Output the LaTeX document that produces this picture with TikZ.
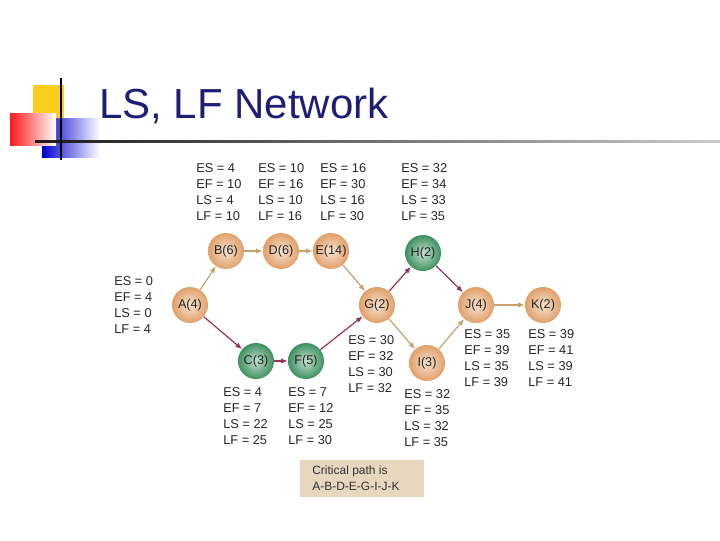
\documentclass[tikz,border=0pt]{standalone}
\usepackage{fontspec}
\setmainfont{Liberation Sans}
\usetikzlibrary{arrows.meta}
\definecolor{tan}{RGB}{225,160,105}
\definecolor{grn}{RGB}{60,145,95}
\definecolor{tarr}{RGB}{200,160,110}
\definecolor{parr}{RGB}{150,50,90}
\definecolor{titleblue}{RGB}{30,30,120}
\definecolor{boxfill}{RGB}{232,214,190}
\definecolor{gold}{RGB}{250,205,30}
\begin{document}
\begin{tikzpicture}[x=0.75pt,y=-0.75pt,
  act/.style={circle,minimum size=36*0.75pt,inner sep=0pt,font=\fontsize{9.5pt}{11pt}\selectfont,text=black!85},
  tn/.style={act,inner color=tan!30!white,outer color=tan},
  gn/.style={act,inner color=grn!30!white,outer color=grn},
  ta/.style={draw=tarr,line width=0.9pt,-{Latex[length=5pt,width=4pt]}},
  pa/.style={draw=parr,line width=0.9pt,-{Latex[length=5pt,width=4pt]}},
  info/.style={anchor=north west,inner sep=0pt,align=left,font=\fontsize{9.6pt}{12pt}\selectfont,text=black!85}]
\useasboundingbox (0,0) rectangle (720,540);
\fill[white] (0,0) rectangle (720,540);
% title decoration
\fill[gold] (33,85) rectangle (64,118);
\shade[left color=blue!80!black,right color=white] (42,118) rectangle (100,157);
\shade[left color=red!90,right color=white] (10,113) rectangle (56,145);
\shade[left color=black!90,right color=black!20] (35,140) rectangle (720,142);
\draw[black,line width=1.6pt] (61,78) -- (61,160);
\node[anchor=base west,inner sep=0pt,text=titleblue,font=\fontsize{31.5pt}{34pt}\selectfont] (title) at (99,118) {LS, LF Network};
% nodes
\node[tn] (A) at (190,305) {A(4)};
\node[tn] (B) at (226,251) {B(6)};
\node[tn] (D) at (281,251) {D(6)};
\node[tn] (E) at (331,251) {E(14)};
\node[gn] (H) at (423,253) {H(2)};
\node[tn] (G) at (377,305) {G(2)};
\node[tn] (J) at (476,305) {J(4)};
\node[tn] (K) at (543,305) {K(2)};
\node[gn] (C) at (256,361) {C(3)};
\node[gn] (F) at (306,361) {F(5)};
\node[tn] (I) at (427,363) {I(3)};
% arrows
\draw[ta] (A) -- (B);
\draw[ta] (B) -- (D);
\draw[ta] (D) -- (E);
\draw[ta] (E) -- (G);
\draw[ta] (G) -- (I);
\draw[ta] (I) -- (J);
\draw[ta] (J) -- (K);
\draw[pa] (A) -- (C);
\draw[pa] (C) -- (F);
\draw[pa] (F) -- (G);
\draw[pa] (G) -- (H);
\draw[pa] (H) -- (J);
% info
\node[info] (iA) at (114,276) {ES = 0\\EF = 4\\LS = 0\\LF = 4};
\node[info] (iB) at (196,163) {ES = 4\\EF = 10\\LS = 4\\LF = 10};
\node[info] (iD) at (258,163) {ES = 10\\EF = 16\\LS = 10\\LF = 16};
\node[info] (iE) at (320,163) {ES = 16\\EF = 30\\LS = 16\\LF = 30};
\node[info] (iH) at (401,163) {ES = 32\\EF = 34\\LS = 33\\LF = 35};
\node[info] (iG) at (348,335) {ES = 30\\EF = 32\\LS = 30\\LF = 32};
\node[info] (iC) at (223,387) {ES = 4\\EF = 7\\LS = 22\\LF = 25};
\node[info] (iF) at (288,387) {ES = 7\\EF = 12\\LS = 25\\LF = 30};
\node[info] (iI) at (404,389) {ES = 32\\EF = 35\\LS = 32\\LF = 35};
\node[info] (iJ) at (464,329) {ES = 35\\EF = 39\\LS = 35\\LF = 39};
\node[info] (iK) at (528,329) {ES = 39\\EF = 41\\LS = 39\\LF = 41};
% critical path box
\node[fill=boxfill,minimum width=124*0.75pt,minimum height=37*0.75pt,anchor=north west,inner sep=0pt] (cbox) at (300,460) {};
\node[anchor=west,align=left,inner sep=0pt,font=\fontsize{9pt}{12pt}\selectfont,text=black!80] (ctext) at (312,478.5) {Critical path is\\A-B-D-E-G-I-J-K};
\end{tikzpicture}
\end{document}
